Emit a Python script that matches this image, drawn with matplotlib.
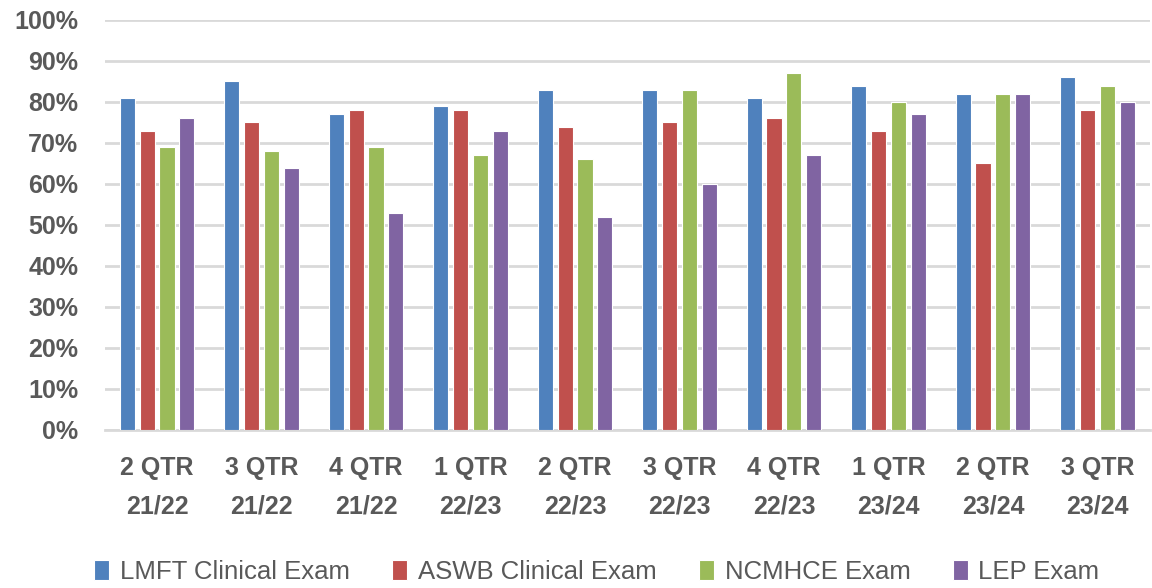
import matplotlib
matplotlib.use('Agg')
import matplotlib.pyplot as plt
import numpy as np

# quarter labels and pass rates (%)
quarters = ['2 QTR\n21/22', '3 QTR\n21/22', '4 QTR\n21/22', '1 QTR\n22/23', '2 QTR\n22/23',
            '3 QTR\n22/23', '4 QTR\n22/23', '1 QTR\n23/24', '2 QTR\n23/24', '3 QTR\n23/24']
lmft = [81, 85, 77, 79, 83, 83, 81, 84, 82, 86]
aswb = [73, 75, 78, 78, 74, 75, 76, 73, 65, 78]
ncmhce = [69, 68, 69, 67, 66, 83, 87, 80, 82, 84]
lep = [76, 64, 53, 73, 52, 60, 67, 77, 82, 80]

series = [('LMFT Clinical Exam', lmft, '#4F81BD'),
          ('ASWB Clinical Exam', aswb, '#C0504D'),
          ('NCMHCE Exam', ncmhce, '#9BBB59'),
          ('LEP Exam', lep, '#8064A2')]

plt.rcParams['font.family'] = ['Liberation Sans', 'DejaVu Sans']
txt = '#595959'

fig = plt.figure(figsize=(11.52, 5.88), dpi=100)
ax = fig.add_axes([0.091, 0.269, 0.907, 0.697])

x = np.arange(len(quarters))
w = 0.145
pitch = 0.19
for i, (name, vals, col) in enumerate(series):
    ax.bar(x + (i - 1.5) * pitch, vals, w, color=col, edgecolor='white', linewidth=0.8,
           label=name, zorder=3)

ax.set_xlim(-0.5, len(quarters) - 0.5)
ax.set_ylim(0, 100)
ax.set_yticks(range(0, 101, 10))
ax.set_yticklabels([f'{v}%' for v in range(0, 101, 10)], fontsize=18, fontweight='bold',
                   color=txt)
ax.set_xticks(x)
ax.set_xticklabels(quarters, fontsize=18, fontweight='bold', color=txt, linespacing=1.75)
ax.tick_params(axis='both', length=0)
ax.tick_params(axis='x', pad=19)
ax.tick_params(axis='y', pad=19)
ax.grid(axis='y', color='#D9D9D9', linewidth=2, zorder=0)
for s in ['top', 'right', 'left']:
    ax.spines[s].set_visible(False)
ax.spines['bottom'].set_color('#D9D9D9')
ax.spines['bottom'].set_linewidth(2)

fig.legend(loc='center', bbox_to_anchor=(0.518, 0.027), ncol=4, frameon=False,
           fontsize=18.5, handlelength=0.6, handleheight=0.8, columnspacing=1.65,
           handletextpad=0.4, labelcolor=txt)

fig.savefig('out.png', dpi=100)
